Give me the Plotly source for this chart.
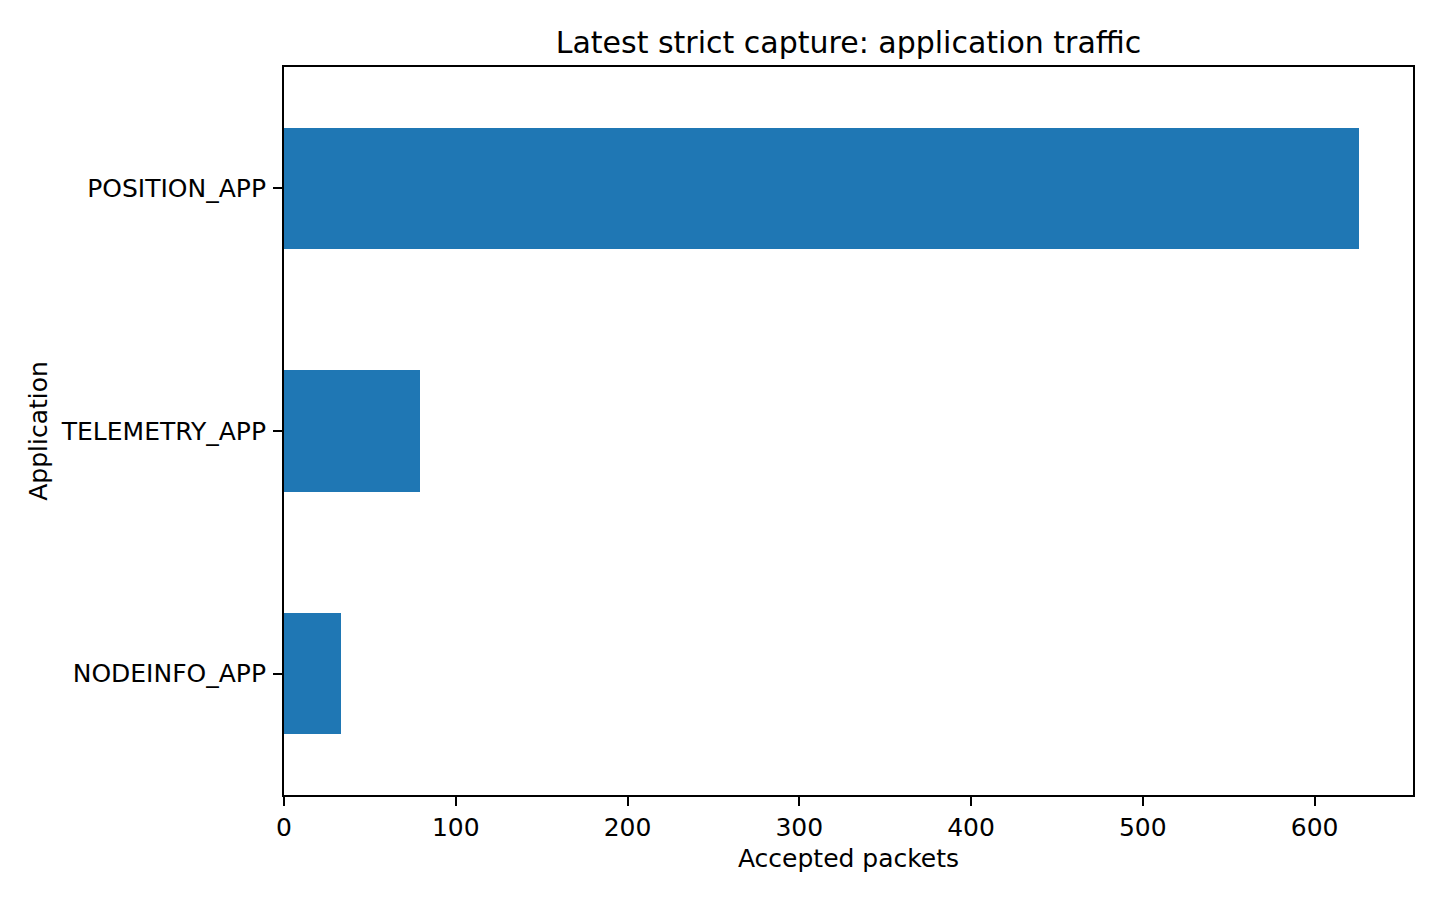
import plotly.graph_objects as go

applications = ["NODEINFO_APP", "TELEMETRY_APP", "POSITION_APP"]
accepted_packets = [33, 79, 626]

FONT = "DejaVu Sans"
fig = go.Figure()
fig.add_trace(go.Bar(
    x=accepted_packets, y=applications, orientation="h",
    marker=dict(color="#1f77b4", line=dict(width=0)), width=0.5,
))
fig.update_layout(
    width=1440, height=900,
    paper_bgcolor="white", plot_bgcolor="white",
    margin=dict(l=284, r=27, t=67, b=105),
    font=dict(family=FONT, size=25, color="black"),
    showlegend=False,
    title=dict(text="Latest strict capture: application traffic",
               x=0.5, xref="paper", xanchor="center",
               y=1 - 42 / 900, yref="container", yanchor="middle",
               font=dict(size=30, family=FONT, color="black")),
    bargap=0,
)
fig.update_xaxes(
    range=[0, max(accepted_packets) * 1.05],
    tickmode="linear", tick0=0, dtick=100,
    ticks="outside", ticklen=9, tickwidth=2, tickcolor="black",
    showline=True, linecolor="black", linewidth=2, mirror=True,
    showgrid=False, zeroline=False,
    title=dict(text="Accepted packets", standoff=8, font=dict(size=25)),
    tickfont=dict(size=25),
)
fig.update_yaxes(
    range=[-0.5, 2.5],
    ticks="outside", ticklen=9, tickwidth=2, tickcolor="black",
    showline=True, linecolor="black", linewidth=2, mirror=True,
    showgrid=False, zeroline=False,
    title=dict(text="Application", standoff=6, font=dict(size=25)),
    tickfont=dict(size=25),
    ticklabelstandoff=2,
)
fig.write_html("out.html")
